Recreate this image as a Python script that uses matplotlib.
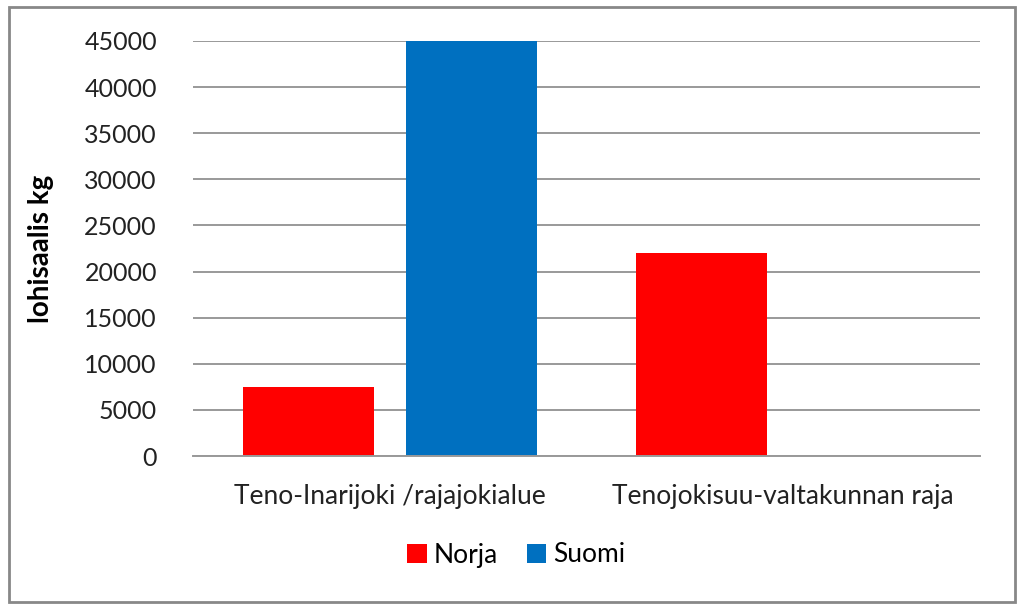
"""Lohisaalis per alue, Norja vs Suomi"""

import numpy as np
import matplotlib.pyplot as plt
from matplotlib.patches import Rectangle

categories = ["Teno-Inarijoki /rajajokialue", "Tenojokisuu-valtakunnan raja"]
series_names = ["Norja", "Suomi"]
norja_values = [7500, 22000]
suomi_values = [45000, 0]
y_ticks = [0, 5000, 10000, 15000, 20000, 25000, 30000, 35000, 40000, 45000]

plt.rcParams['font.family'] = ['Lato', 'DejaVu Sans']

fig = plt.figure(figsize=(10.24, 6.11), dpi=100)
ax = fig.add_axes([193 / 1024, 1 - 456 / 611, (980 - 193) / 1024, (456 - 41) / 611])

x = np.arange(len(categories))
width = 0.333
offset = 0.2075
ax.bar(x - offset, norja_values, width, color="#FF0000", label=series_names[0])
ax.bar(x + offset, suomi_values, width, color="#0070C0", label=series_names[1])

ax.set_xlim(-0.5, 1.5)
ax.set_ylim(0, 45000)
ax.set_yticks(y_ticks)
ax.set_yticklabels([str(v) for v in y_ticks], fontsize=18, color="#222222")
ax.set_xticks(x)
ax.set_xticklabels(categories, fontsize=19, color="#222222")
ax.tick_params(axis="both", length=0)
ax.tick_params(axis="y", pad=26)
ax.tick_params(axis="x", pad=20)
ax.grid(axis="y", color="#999999", linewidth=1.4)
ax.set_axisbelow(True)
for side in ["left", "right", "top"]:
    ax.spines[side].set_visible(False)
ax.spines["bottom"].set_color("#999999")
ax.spines["bottom"].set_linewidth(1.4)

ax.set_ylabel("lohisaalis kg", fontsize=20, fontweight="bold", labelpad=22)

handles, labels = ax.get_legend_handles_labels()
fig.legend(handles, labels, loc="center", bbox_to_anchor=(516 / 1024, 1 - 555 / 611),
           ncol=2, frameon=False, fontsize=19, handlelength=0.75, handleheight=0.75,
           handletextpad=0.25, columnspacing=1.1)

fig.patches.append(Rectangle((9 / 1024, 1 - 602 / 611), (1015 - 9) / 1024, (602 - 7) / 611,
                             transform=fig.transFigure, fill=False,
                             edgecolor="#888888", linewidth=2))

fig.savefig("out.png", dpi=100)
